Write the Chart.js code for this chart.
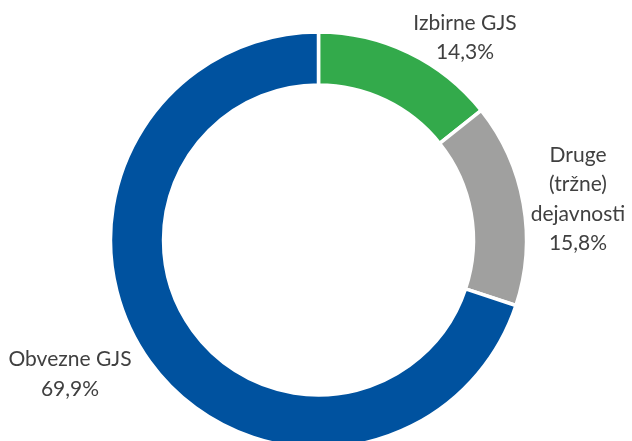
<!DOCTYPE html>
<html>
<head>
<meta charset="utf-8">
<script src="https://cdn.jsdelivr.net/npm/chart.js@4.4.1/dist/chart.umd.min.js"></script>
<style>
html,body{margin:0;padding:0;background:#fff;}
#wrap{width:632px;height:441px;position:relative;}
</style>
</head>
<body>
<div id="wrap"><canvas id="c" width="632" height="441"></canvas></div>
<script>
const categories = ["Izbirne GJS", "Druge (tržne) dejavnosti", "Obvezne GJS"];
const labelLines = [["Izbirne GJS"], ["Druge", "(tržne)", "dejavnosti"], ["Obvezne GJS"]];
const shares = [14.3, 15.8, 69.9];
const colors = ["#33AA4B", "#A0A09F", "#00529F"];

// label block centres relative to the doughnut centre
const labelOffsets = [[146.5, -202.5], [259.5, -41], [-248.5, 134]];

const fmt = v => v.toFixed(1).replace('.', ',') + '%';

const labelPlugin = {
  id: 'outLabels',
  afterDatasetsDraw(chart) {
    const ctx = chart.ctx;
    const meta = chart.getDatasetMeta(0);
    ctx.save();
    ctx.font = '21px Lato';
    ctx.fillStyle = '#404040';
    ctx.textAlign = 'center';
    ctx.textBaseline = 'middle';
    const lh = 29.5;
    meta.data.forEach((arc, i) => {
      const lines = labelLines[i].concat([fmt(shares[i])]);
      const cx = arc.x + labelOffsets[i][0];
      const cy = arc.y + labelOffsets[i][1];
      const top = cy - (lines.length - 1) * lh / 2;
      lines.forEach((t, k) => ctx.fillText(t, cx, top + k * lh));
    });
    ctx.restore();
  }
};

new Chart(document.getElementById('c'), {
  type: 'doughnut',
  data: {
    labels: categories,
    datasets: [{
      data: shares,
      backgroundColor: colors,
      borderColor: '#ffffff',
      borderWidth: 3.5,
      clip: false
    }]
  },
  options: {
    responsive: false,
    animation: false,
    radius: 208,
    cutout: '74.5%',
    rotation: 0,
    layout: { padding: { left: 5, right: 0, top: 39, bottom: 0 } },
    plugins: { legend: { display: false }, tooltip: { enabled: false } }
  },
  plugins: [labelPlugin]
});
</script>
</body>
</html>
